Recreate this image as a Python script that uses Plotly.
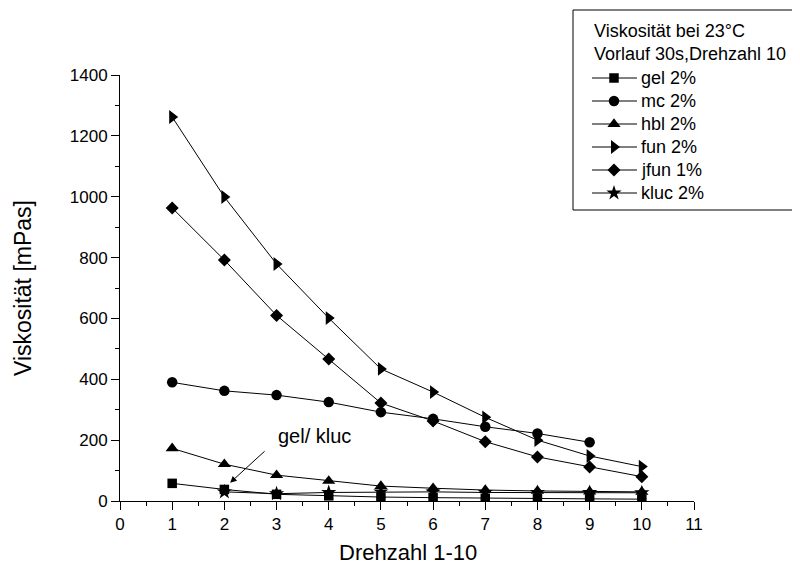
import plotly.graph_objects as go

# ---- data ----
x_vals = [1, 2, 3, 4, 5, 6, 7, 8, 9, 10]
gel = [58, 38, 22, 17, 13, 11, 9, 8, 7, 6]
mc = [390, 362, 348, 325, 292, 270, 244, 222, 193, None]
hbl = [173, 121, 85, 66, 49, 42, 36, 33, 31, 30]
fun = [1262, 999, 779, 601, 434, 358, 275, 200, 148, 113]
jfun = [963, 792, 610, 467, 322, 263, 195, 145, 112, 80]
kluc = [None, 30, 24, 28, 30, 30, 28, 28, 28, 27]

series_names = ["gel 2%", "mc 2%", "hbl 2%", "fun 2%", "jfun 1%", "kluc 2%"]
series_values = [gel, mc, hbl, fun, jfun, kluc]
x_ticks = list(range(0, 12))
y_ticks = list(range(0, 1401, 200))
legend_title = ["Viskosität bei 23°C", "Vorlauf 30s,Drehzahl 10"]

symbols = ["square", "circle", "triangle-up", "triangle-right", "diamond", "star"]
sizes = [9.5, 10.5, 11.5, 12, 10, 11.5]

FONT = "Liberation Sans, Arial, sans-serif"
W, H = 800, 570
OFF = 8  # page offset of the figure in the window

def fx(sx):  # screen x -> figure px
    return sx - OFF

def fy(sy):
    return sy - OFF

# plot area in screen coordinates
PL, PR, PT, PB = 120, 694, 75, 501

fig = go.Figure()
for name, vals, sym, sz in zip(series_names, series_values, symbols, sizes):
    fig.add_trace(go.Scatter(
        x=x_vals, y=vals, name=name, mode="lines+markers",
        line=dict(color="black", width=1),
        marker=dict(symbol=sym, size=sz, color="black", line=dict(width=0)),
        showlegend=False, xaxis="x", yaxis="y",
    ))

# ---- legend drawn on a pixel-unit overlay subplot ----
box_l, box_r, box_t, box_b = 573, 810, 10, 210
fig.add_shape(type="rect", xref="x2", yref="y2",
              x0=fx(box_l), x1=fx(box_r), y0=fy(box_t), y1=fy(box_b),
              line=dict(color="black", width=1), fillcolor="white", layer="below")

title_rows = [31, 54]
item_rows = [78, 101, 124, 147, 170, 193]
for t, ry in zip(legend_title, title_rows):
    fig.add_annotation(xref="x2", yref="y2", x=fx(592), y=fy(ry), text=t,
                       showarrow=False, xanchor="left", yanchor="middle",
                       font=dict(size=18, family=FONT, color="black"))
for name, sym, sz, ry in zip(series_names, symbols, sizes, item_rows):
    fig.add_shape(type="line", xref="x2", yref="y2",
                  x0=fx(592), x1=fx(637), y0=fy(ry), y1=fy(ry),
                  line=dict(color="black", width=1))
    fig.add_trace(go.Scatter(
        x=[fx(614)], y=[fy(ry)], mode="markers", showlegend=False,
        marker=dict(symbol=sym, size=sz, color="black", line=dict(width=0)),
        xaxis="x2", yaxis="y2", hoverinfo="skip",
    ))
    fig.add_annotation(xref="x2", yref="y2", x=fx(639), y=fy(ry), text=name,
                       showarrow=False, xanchor="left", yanchor="middle",
                       font=dict(size=18, family=FONT, color="black"))

# axis titles
fig.add_annotation(xref="x2", yref="y2", x=fx((PL + PR) / 2 + 1), y=fy(552),
                   text="Drehzahl 1-10", showarrow=False,
                   font=dict(size=22, family=FONT, color="black"))
fig.add_annotation(xref="x2", yref="y2", x=fx(23), y=fy((PT + PB) / 2),
                   text="Viskosität [mPas]", showarrow=False, textangle=-90,
                   font=dict(size=23, family=FONT, color="black"))

# in-plot annotation
fig.add_annotation(x=2.11, y=60, ax=2.80, ay=168, xref="x", yref="y",
                   axref="x", ayref="y", text="", showarrow=True,
                   arrowhead=2, arrowsize=1.3, arrowwidth=1, arrowcolor="black")
fig.add_annotation(x=3.72, y=214, xref="x", yref="y", text="gel/ kluc",
                   showarrow=False, font=dict(size=20, color="black", family=FONT))

fig.update_layout(
    width=W, height=H,
    margin=dict(l=0, r=0, t=0, b=0, autoexpand=False),
    paper_bgcolor="white", plot_bgcolor="rgba(0,0,0,0)",
    font=dict(family=FONT, color="black", size=17),
    showlegend=False,
    xaxis=dict(
        domain=[fx(PL) / W, fx(PR) / W],
        range=[0, 11], tickvals=x_ticks, showgrid=False, zeroline=False,
        showline=True, linecolor="black", linewidth=1,
        ticks="outside", ticklen=8, tickcolor="black",
        minor=dict(dtick=0.5, ticks="outside", ticklen=4, tickcolor="black"),
        tickfont=dict(size=17), anchor="y",
    ),
    yaxis=dict(
        domain=[(H - fy(PB)) / H, (H - fy(PT)) / H],
        range=[0, 1400], tickvals=y_ticks, showgrid=False, zeroline=False,
        showline=True, linecolor="black", linewidth=1,
        ticks="outside", ticklen=8, tickcolor="black",
        minor=dict(dtick=100, ticks="outside", ticklen=4, tickcolor="black"),
        tickfont=dict(size=17), anchor="x",
    ),
    xaxis2=dict(domain=[0, 1], range=[0, W], visible=False, anchor="y2",
                fixedrange=True),
    yaxis2=dict(domain=[0, 1], range=[H, 0], visible=False, anchor="x2",
                fixedrange=True),
)

fig.write_html("out.html")
